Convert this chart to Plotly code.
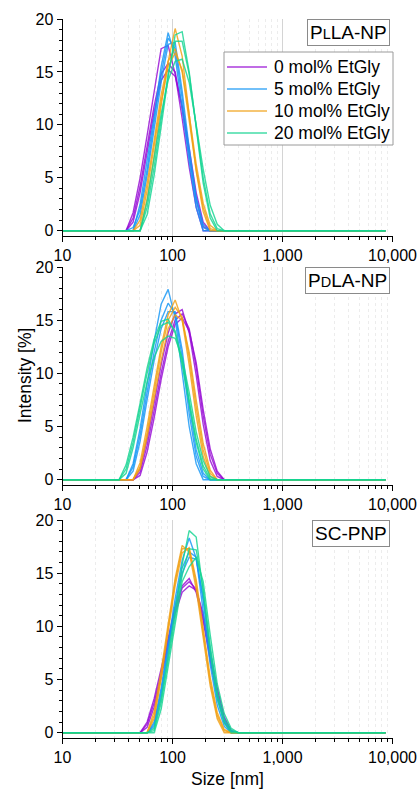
import plotly.graph_objects as go

# Zetasizer size bins (nm) shown in the chart
sizes_nm = [10.10, 11.70, 13.54, 15.69, 18.17, 21.04, 24.36, 28.21,
            32.67, 37.84, 43.82, 50.75, 58.77, 68.06, 78.82, 91.28, 105.7, 122.4,
            141.8, 164.2, 190.1, 220.2, 255.0, 295.3, 342.0, 396.1,
            458.7, 531.2, 615.1, 712.4, 825.0, 955.4, 1106, 1281, 1484, 1718,
            1990, 2305, 2669, 3091, 3580, 4145, 4801, 5560, 6439, 7456, 8635]
# intensities (%) at bins 32.67 ... 396.1; all other bins are 0
window_start = 32.67
window_len = 18

labels = ["0 mol% EtGly", "5 mol% EtGly", "10 mol% EtGly", "20 mol% EtGly"]
colors = ["rgba(150,10,212,0.82)", "rgba(20,150,245,0.82)",
          "rgba(240,160,20,0.82)", "rgba(20,212,145,0.82)"]
legend_colors = ["rgba(150,10,212,0.6)", "rgba(20,150,245,0.6)",
                 "rgba(240,160,20,0.6)", "rgba(20,212,145,0.6)"]

p1_purple = [
    [0, 0, 1.7, 5.0, 9.0, 13.2, 17.2, 17.5, 14.8, 10.6, 6.0, 2.2, 0, 0, 0, 0, 0, 0],
    [0, 0, 1.2, 4.2, 8.0, 11.8, 14.8, 15.8, 15.0, 11.5, 7.2, 3.0, 0.4, 0, 0, 0, 0, 0],
    [0, 0, 0.8, 3.6, 7.4, 11.2, 14.2, 15.2, 14.6, 11.8, 7.8, 3.6, 0.8, 0, 0, 0, 0, 0]]
p1_blue = [
    [0, 0, 0, 2.5, 6.5, 10.8, 15.5, 18.7, 16.5, 11.5, 6.5, 2.2, 0, 0, 0, 0, 0, 0],
    [0, 0, 0.3, 2.0, 5.8, 10.2, 14.8, 18.2, 17.2, 12.5, 7.2, 2.8, 0.3, 0, 0, 0, 0, 0],
    [0, 0, 0, 1.5, 5.2, 9.6, 14.0, 17.6, 17.8, 13.2, 7.8, 3.2, 0.6, 0, 0, 0, 0, 0]]
p1_orange = [
    [0, 0, 0, 0, 3.0, 7.0, 11.8, 16.0, 19.1, 16.5, 11.0, 5.6, 1.8, 0, 0, 0, 0, 0],
    [0, 0, 0, 1.0, 4.5, 8.5, 12.8, 16.0, 17.2, 15.0, 10.5, 5.8, 2.2, 0.2, 0, 0, 0, 0],
    [0, 0, 0, 0.5, 3.8, 8.0, 12.2, 15.5, 16.8, 15.2, 11.0, 6.3, 2.6, 0.5, 0, 0, 0, 0]]
p1_green = [
    [0, 0, 0, 0, 1.5, 5.2, 9.8, 14.5, 18.5, 18.8, 15.0, 9.5, 4.5, 1.2, 0, 0, 0, 0],
    [0, 0, 0, 0, 2.2, 6.0, 10.5, 14.8, 17.9, 17.9, 14.8, 9.8, 5.0, 1.6, 0.2, 0, 0, 0],
    [0, 0, 0, 0, 2.8, 6.8, 11.0, 14.2, 16.0, 16.2, 14.0, 10.0, 5.8, 2.4, 0.6, 0, 0, 0]]

p2_purple = [
    [0, 0, 0, 1.0, 3.8, 7.2, 10.8, 13.8, 15.6, 16.0, 13.8, 9.8, 5.2, 1.8, 0.3, 0, 0, 0],
    [0, 0, 0, 0.7, 3.2, 6.5, 10.0, 13.0, 15.0, 15.6, 14.2, 10.6, 6.0, 2.4, 0.6, 0, 0, 0],
    [0, 0, 0, 0.4, 2.6, 5.8, 9.4, 12.5, 14.6, 15.2, 14.0, 11.0, 6.6, 2.9, 0.8, 0, 0, 0]]
p2_blue = [
    [0, 0, 1.5, 4.8, 9.0, 13.0, 16.5, 17.9, 15.2, 10.0, 5.0, 1.5, 0, 0, 0, 0, 0, 0],
    [0, 0, 1.2, 4.2, 8.2, 12.0, 15.0, 16.6, 15.6, 11.5, 6.2, 2.2, 0.3, 0, 0, 0, 0, 0],
    [0, 0, 0.8, 3.6, 7.5, 11.2, 14.2, 15.8, 15.8, 12.2, 7.0, 2.8, 0.6, 0, 0, 0, 0, 0]]
p2_orange = [
    [0, 0, 0, 1.6, 5.0, 8.8, 12.5, 15.5, 16.9, 15.0, 10.8, 6.0, 2.2, 0.3, 0, 0, 0, 0],
    [0, 0, 0, 1.2, 4.4, 8.2, 12.0, 15.0, 16.2, 15.3, 11.5, 6.8, 2.8, 0.6, 0, 0, 0, 0],
    [0, 0, 0, 1.0, 4.0, 7.6, 11.2, 14.2, 15.5, 15.0, 12.0, 7.5, 3.4, 0.9, 0, 0, 0, 0]]
p2_green = [
    [0, 1.4, 4.0, 7.2, 10.5, 13.2, 14.9, 15.1, 13.8, 10.8, 7.0, 3.5, 1.0, 0, 0, 0, 0, 0],
    [0, 1.0, 3.5, 6.8, 10.0, 12.8, 14.5, 14.8, 14.0, 11.2, 7.5, 3.8, 1.3, 0.1, 0, 0, 0, 0],
    [0, 0.6, 3.0, 6.2, 9.2, 11.5, 13.0, 13.5, 13.3, 11.5, 8.2, 4.5, 1.8, 0.3, 0, 0, 0, 0]]

p3_purple = [
    [0, 0, 0, 0, 1.0, 3.2, 6.0, 9.0, 11.8, 13.8, 14.5, 13.2, 10.5, 6.8, 3.5, 1.0, 0, 0],
    [0, 0, 0, 0, 0.8, 2.8, 5.6, 8.6, 11.5, 13.6, 14.2, 13.5, 10.8, 7.2, 3.8, 1.3, 0.1, 0],
    [0, 0, 0, 0, 0.5, 2.4, 5.2, 8.3, 11.2, 13.2, 13.8, 13.4, 11.2, 7.6, 4.2, 1.5, 0.2, 0]]
p3_blue = [
    [0, 0, 0, 0, 0, 1.0, 4.2, 8.4, 12.6, 16.2, 18.3, 16.4, 11.6, 6.4, 2.6, 0.6, 0, 0],
    [0, 0, 0, 0, 0, 0.8, 3.8, 8.0, 12.0, 15.5, 17.0, 16.5, 12.4, 7.2, 3.2, 1.0, 0.1, 0],
    [0, 0, 0, 0, 0, 0.6, 3.4, 7.6, 11.6, 15.0, 16.5, 16.3, 12.8, 7.8, 3.6, 1.2, 0.2, 0]]
p3_orange = [
    [0, 0, 0, 0, 0, 2.0, 5.8, 10.2, 14.5, 17.6, 17.0, 13.5, 8.8, 4.4, 1.3, 0, 0, 0],
    [0, 0, 0, 0, 0, 1.6, 5.3, 9.8, 14.2, 17.3, 17.3, 14.0, 9.3, 4.8, 1.6, 0.2, 0, 0],
    [0, 0, 0, 0, 0, 1.3, 5.0, 9.5, 13.8, 16.9, 17.4, 14.4, 9.7, 5.2, 1.9, 0.3, 0, 0]]
p3_green = [
    [0, 0, 0, 0, 0, 0.4, 3.2, 7.2, 11.5, 15.8, 19.0, 18.4, 13.2, 7.5, 3.2, 0.9, 0, 0],
    [0, 0, 0, 0, 0, 0.2, 2.8, 6.8, 11.0, 14.8, 17.3, 17.2, 13.5, 8.2, 3.8, 1.3, 0.2, 0],
    [0, 0, 0, 0, 0, 0, 2.2, 6.0, 10.2, 14.2, 15.6, 16.5, 14.2, 9.2, 4.6, 1.8, 0.4, 0]]

panels = [
    [p1_purple, p1_blue, p1_orange, p1_green],
    [p2_purple, p2_blue, p2_orange, p2_green],
    [p3_purple, p3_blue, p3_orange, p3_green],
]
panel_names = ["P<span style='font-size:14.5px'>L</span>LA-NP",
               "P<span style='font-size:14.5px'>D</span>LA-NP",
               "SC-PNP"]

W, H = 419, 791
FONT = "Liberation Sans, Arial, sans-serif"
i0 = sizes_nm.index(window_start)


def full(vals):
    out = [0.0] * len(sizes_nm)
    for k, v in enumerate(vals):
        out[i0 + k] = v
    return out


def px_x(v):
    return v / W


def px_y(v):
    return 1 - v / H


# pixel boxes of each plot area (top, bottom)
boxes = [(19, 236), (267, 485), (520, 738)]
x_left, x_right = 62.5, 392.5

fig = go.Figure()
for p, groups in enumerate(panels):
    xa = "x" if p == 0 else f"x{p+1}"
    ya = "y" if p == 0 else f"y{p+1}"
    for g, reps in enumerate(groups):
        for r, vals in enumerate(reps):
            fig.add_trace(go.Scatter(
                x=sizes_nm, y=full(vals), mode="lines",
                line=dict(color=colors[g], width=1.4),
                name=labels[g], showlegend=False,
                xaxis=xa, yaxis=ya))

layout = dict(
    width=W, height=H, margin=dict(l=0, r=0, t=0, b=0, autoexpand=False),
    paper_bgcolor="white", plot_bgcolor="white",
    font=dict(family=FONT, size=16, color="black"),
    showlegend=False,
)
annotations = []
shapes = []
for p, (top, bot) in enumerate(boxes):
    xs = "xaxis" if p == 0 else f"xaxis{p+1}"
    ys = "yaxis" if p == 0 else f"yaxis{p+1}"
    yref = "y" if p == 0 else f"y{p+1}"
    layout[xs] = dict(
        type="log", range=[1, 4], domain=[px_x(x_left), px_x(x_right)],
        anchor=yref, dtick=1, tickformat=",", automargin=False,
        showline=True, linecolor="black", linewidth=1,
        ticks="outside", ticklen=5, tickwidth=1, tickcolor="black",
        showgrid=True, gridcolor="#d4d4d4", gridwidth=1,
        minor=dict(dtick="D1", ticks="outside", ticklen=3, tickwidth=1,
                   tickcolor="black", showgrid=True, gridcolor="#ececec",
                   griddash="dot", gridwidth=1),
        zeroline=False, tickfont=dict(size=16),
    )
    layout[ys] = dict(
        range=[-0.5, 20], domain=[px_y(bot), px_y(top)],
        anchor="x" if p == 0 else f"x{p+1}", automargin=False,
        dtick=5, showline=True, linecolor="black", linewidth=1,
        ticks="outside", ticklen=5, tickwidth=1, tickcolor="black",
        minor=dict(dtick=1, ticks="outside", ticklen=3, tickwidth=1,
                   tickcolor="black", showgrid=False),
        showgrid=False, zeroline=False, tickfont=dict(size=16),
    )
    annotations.append(dict(
        text=panel_names[p], xref="paper", yref="paper",
        x=px_x(390), y=px_y(top), xanchor="right", yanchor="top",
        showarrow=False, font=dict(size=19),
        bordercolor="#8a8a8a", borderwidth=1, borderpad=2, bgcolor="white"))

# legend (top panel)
leg_top, leg_bot, leg_left, leg_right = 52, 145, 224, 393
shapes.append(dict(type="rect", xref="paper", yref="paper",
                   x0=px_x(leg_left), x1=px_x(leg_right),
                   y0=px_y(leg_bot), y1=px_y(leg_top),
                   line=dict(color="#9a9a9a", width=1), fillcolor="white",
                   layer="above"))
leg_rows = [67, 89, 111, 133]
for g, yy in enumerate(leg_rows):
    shapes.append(dict(type="line", xref="paper", yref="paper",
                       x0=px_x(227), x1=px_x(267), y0=px_y(yy), y1=px_y(yy),
                       line=dict(color=legend_colors[g], width=2.2),
                       layer="above"))
    annotations.append(dict(text=labels[g], xref="paper", yref="paper",
                            x=px_x(272), y=px_y(yy), xanchor="left",
                            yanchor="middle", showarrow=False,
                            font=dict(size=17.5)))

annotations.append(dict(text="Intensity [%]", xref="paper", yref="paper",
                        x=px_x(25), y=px_y(376), textangle=-90,
                        xanchor="center", yanchor="middle",
                        showarrow=False, font=dict(size=17.5)))
annotations.append(dict(text="Size [nm]", xref="paper", yref="paper",
                        x=px_x(227), y=0, xanchor="center", yanchor="bottom",
                        showarrow=False, font=dict(size=17.5)))
layout["annotations"] = annotations
layout["shapes"] = shapes
fig.update_layout(**layout)
fig.write_html("out.html")
